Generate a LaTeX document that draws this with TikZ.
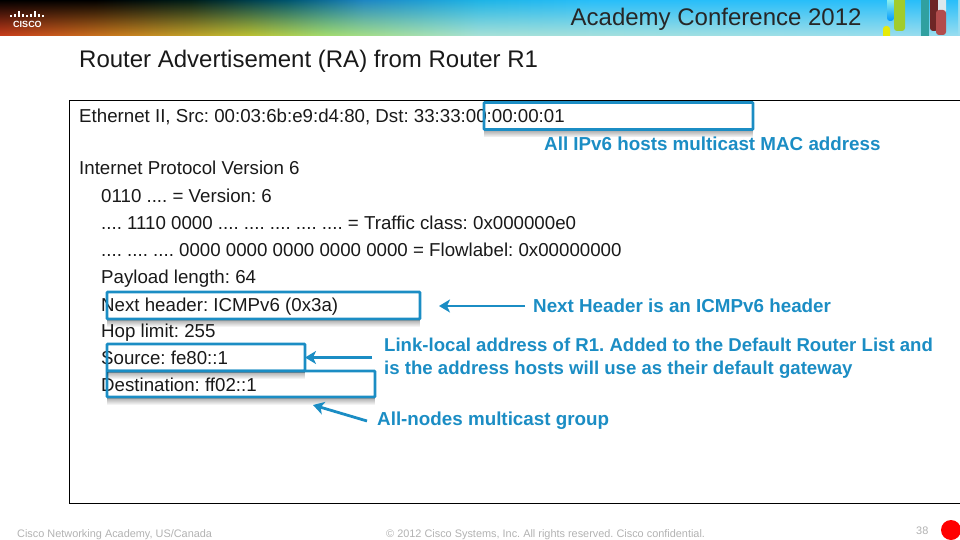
\documentclass[tikz,border=0pt]{standalone}
\usepackage{fontspec}
\setmainfont{Liberation Sans}
\usetikzlibrary{positioning,fadings,arrows.meta}
\definecolor{ciscoblue}{RGB}{27,141,196}
\definecolor{bandteal}{RGB}{48,160,160}
\definecolor{lowa}{RGB}{205,62,28}
\definecolor{lowb}{RGB}{205,125,30}
\definecolor{lowc}{RGB}{190,195,50}
\definecolor{lowd}{RGB}{165,222,110}
\definecolor{lowe}{RGB}{170,226,215}
\definecolor{lowf}{RGB}{155,222,240}
\definecolor{higha}{RGB}{0,0,0}
\definecolor{highb}{RGB}{0,30,25}
\definecolor{highc}{RGB}{0,85,110}
\definecolor{highd}{RGB}{30,135,195}
\definecolor{highe}{RGB}{30,180,230}
\definecolor{highf}{RGB}{40,190,250}
\pgfdeclarehorizontalshading{bandlow}{100bp}{color(0bp)=(lowa);color(25bp)=(lowa);color(31bp)=(lowb);color(38bp)=(lowc);
  color(42bp)=(lowd);color(50bp)=(lowe);color(75bp)=(lowf);color(100bp)=(lowf)}
\pgfdeclarehorizontalshading{bandhigh}{100bp}{color(0bp)=(higha);color(30bp)=(higha);color(35bp)=(highb);
  color(40bp)=(highc);color(44bp)=(highd);color(50bp)=(highe);color(56bp)=(highf);color(100bp)=(highf)}
\tikzfading[name=bandfade, top color=transparent!0, middle color=transparent!22, bottom color=transparent!100]
\frenchspacing
\tikzset{
  bodytext/.style={font=\fontsize{18.7}{18.7}\selectfont, text=black!90, anchor=base west, inner sep=0pt},
  notetext/.style={font=\fontsize{18.8}{23}\selectfont\bfseries, text=ciscoblue, anchor=west, inner sep=0pt, align=left},
  footnote/.style={font=\fontsize{10.9}{10.9}\selectfont, text=black!30, anchor=base west, inner sep=0pt},
  markbox/.style={draw=ciscoblue, line width=2.8pt, inner sep=0pt, outer sep=0pt, anchor=north west, rounded corners=0.8pt},
  markshadow/.style={fill=black, fill opacity=0.3, path fading=south},
  markarrow/.style={-{Stealth[length=11pt,width=13pt,inset=3pt]}, draw=ciscoblue, line width=2.8pt},
  barwhite/.style={draw=white, line width=1.1pt},
  pillbar/.style={rounded corners=3pt},
}
\begin{document}
\begin{tikzpicture}[x=1pt,y=-1pt]
  \useasboundingbox (0,0) rectangle (960,540);
  % banner
  \shade[shading=bandlow] (0,0) rectangle (960,36);
  \shade[shading=bandhigh, path fading=bandfade] (0,0) rectangle (960,36);
  % logo
  \foreach \x/\h in {11/1.5,15/3,19/5.5,23/3,27/1.5,31/3,35/5.5,39/3,43/1.5}
    \draw[barwhite] (\x,17) -- (\x,17-\h);
  \node[font=\fontsize{9}{9}\selectfont\bfseries, text=white, inner sep=0pt] (logotext) at (27.5,24) {CISCO};
  % decoration
  \begin{scope}
    \clip (870,0) rectangle (960,36);
    \fill[yellow!90!green, pillbar] (883,26) rectangle (890,44);
    \shade[top color=green!25!cyan!35!white, bottom color=cyan!60!blue, pillbar] (887,-4) rectangle (894,21);
    \fill[lowc!85!green, pillbar] (894,-4) rectangle (905,31);
    \fill[bandteal] (921,-2) rectangle (929,40);
    \fill[black!60!red!70!gray, pillbar] (930,-4) rectangle (938,31);
    \fill[cyan!10!white!85!gray, pillbar] (938,-4) rectangle (946,14);
    \fill[red!40!gray, pillbar] (936,10) rectangle (946,35);
  \end{scope}
  \node[font=\fontsize{24}{24}\selectfont, text=black!85, anchor=base west, inner sep=0pt] (conf) at (570.5,26) {Academy Conference 2012};
  % title
  \node[font=\fontsize{24}{24}\selectfont, text=black!90, anchor=base west, inner sep=0pt] (title) at (79,68) {Router Advertisement (RA) from Router R1};
  % packet box
  \draw[black, line width=0.9pt] (961,100) -- (69,100) -- (69,503) -- (961,503);
  % decoded lines
  \node[bodytext] (eth) at (79,122.5) {Ethernet II, Src: 00:03:6b:e9:d4:80, Dst: 33:33:00:00:00:01};
  \node[bodytext] (ipv) at (79,175) {Internet Protocol Version 6};
  \node[bodytext] (ver) at (101,202) {0110 .... = Version: 6};
  \node[bodytext] (tc) at (101,229) {.... 1110 0000 .... .... .... .... .... = Traffic class: 0x000000e0};
  \node[bodytext] (fl) at (101,256) {.... .... .... 0000 0000 0000 0000 0000 = Flowlabel: 0x00000000};
  \node[bodytext] (pl) at (101,283) {Payload length: 64};
  \node[bodytext] (nh) at (101,311) {Next header: ICMPv6 (0x3a)};
  \node[bodytext] (hop) at (101,337) {Hop limit: 255};
  \node[bodytext] (src) at (101,364) {Source: fe80::1};
  \node[bodytext] (dst) at (101,391) {Destination: ff02::1};
  % marks
  \node[markbox, minimum width=269pt, minimum height=27pt] (macbox) at (484,102.5) {};
  \node[markbox, minimum width=313pt, minimum height=27pt] (nhbox) at (107,292) {};
  \node[markbox, minimum width=198pt, minimum height=27pt] (srcbox) at (107,344) {};
  \node[markbox, minimum width=268pt, minimum height=26pt] (dstbox) at (107,371) {};
  \foreach \b in {macbox,nhbox,srcbox,dstbox}
    \fill[markshadow] ([yshift=-1.4pt]\b.south west) rectangle ([yshift=-8pt]\b.south east);
  % notes
  \node[notetext] (macnote) at (544,144) {All IPv6 hosts multicast MAC address};
  \node[notetext] (nhnote) at (533,306) {Next Header is an ICMPv6 header};
  \node[notetext, font=\fontsize{18.6}{23}\selectfont\bfseries] (srcnote) at (384,358) {Link-local address of R1. Added to the Default Router List and\\is the address hosts will use as their default gateway};
  \node[notetext] (dstnote) at (377,421) {All-nodes multicast group};
  % arrows
  \coordinate (nhfrom) at (525,306);
  \coordinate (nhtip) at (439,306);
  \coordinate (srcfrom) at (372,357.5);
  \coordinate (dstfrom) at (367,421);
  \coordinate (dsttip) at (313,405);
  \draw[markarrow] (nhfrom) -- (nhtip);
  \draw[markarrow] (srcfrom) -- (srcbox.east);
  \draw[markarrow] (dstfrom) -- (dsttip);
  % footer
  \node[footnote] (foot1) at (17,537) {Cisco Networking Academy, US/Canada};
  \node[footnote] (foot2) at (386,537) {© 2012 Cisco Systems, Inc. All rights reserved. Cisco confidential.};
  \node[footnote] (page) at (916,534) {38};
  \fill[red] (951,530) circle (10);
\end{tikzpicture}
\end{document}
